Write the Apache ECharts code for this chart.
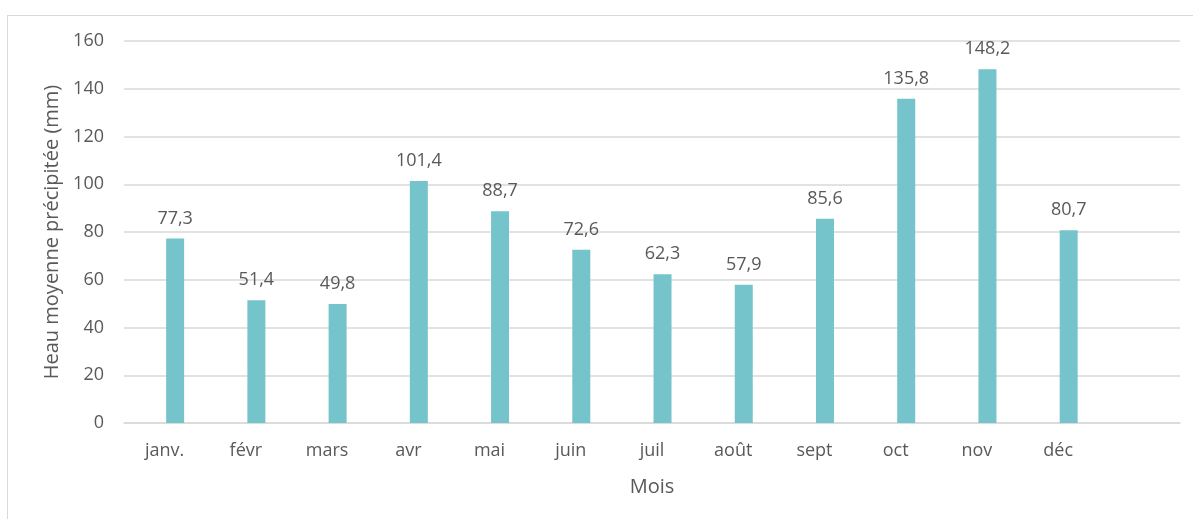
<!DOCTYPE html>
<html><head><meta charset="utf-8">
<script src="https://cdn.jsdelivr.net/npm/echarts@6/dist/echarts.min.js"></script>
<style>
html,body{margin:0;padding:0;background:#fff;overflow:hidden;}
#frame{position:absolute;left:7px;top:15px;width:1200px;height:520px;border:1px solid #d9d9d9;box-sizing:border-box;}
#chart{position:absolute;left:0;top:0;width:1193px;height:519px;}
</style></head>
<body>
<div id="frame"></div>
<div id="chart"></div>
<script>
const months = ['janv.','févr','mars','avr','mai','juin','juil','août','sept','oct','nov','déc',''];
const rainfall = [77.3,51.4,49.8,101.4,88.7,72.6,62.3,57.9,85.6,135.8,148.2,80.7];
const yTicks = {min:0, max:160, interval:20};
const fontFam = '"Open Sans", "Noto Sans", sans-serif';
const txt = '#595959';
const chart = echarts.init(document.getElementById('chart'), null, {renderer:'canvas'});
chart.setOption({
  animation:false,
  backgroundColor:'transparent',
  grid:{left:124,right:13,top:41,bottom:96,containLabel:false},
  xAxis:{
    type:'category', data:months, boundaryGap:true,
    axisLine:{show:true,lineStyle:{color:'#d9d9d9',width:1.5}},
    axisTick:{show:false},
    axisLabel:{color:txt,fontSize:18,fontFamily:fontFam,margin:19},
    name:'Mois', nameLocation:'middle', nameGap:54,
    nameTextStyle:{color:txt,fontSize:20,fontFamily:fontFam}
  },
  yAxis:{
    type:'value', min:yTicks.min, max:yTicks.max, interval:yTicks.interval,
    axisLine:{show:false}, axisTick:{show:false},
    splitLine:{lineStyle:{color:'#d9d9d9',width:1.5}},
    axisLabel:{color:txt,fontSize:18,fontFamily:fontFam,margin:20},
    name:'Heau moyenne précipitée (mm)', nameLocation:'middle', nameGap:61,
    nameTextStyle:{color:txt,fontSize:20,fontFamily:fontFam}
  },
  series:[
    {type:'bar', data:months.map(()=>null), barWidth:18, barGap:'17%'},
    {type:'bar', data:rainfall, barWidth:18, barGap:'17%',
     itemStyle:{color:'#76c4cb'},
     label:{show:true,position:'top',distance:11,color:txt,fontSize:18,fontFamily:fontFam,
       formatter:p=>p.value.toFixed(1).replace('.',',')}}
  ]
});
</script>
</body></html>
